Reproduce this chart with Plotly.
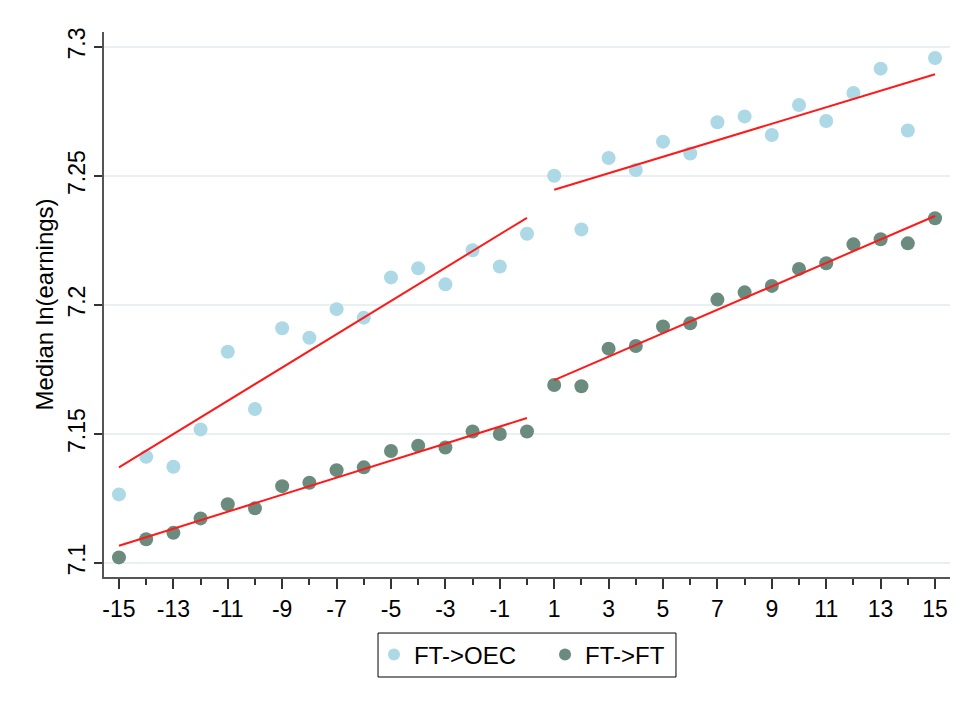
import plotly.graph_objects as go

x_vals = list(range(-15, 16))
oec_vals = [7.1266, 7.1412, 7.1373, 7.1518, 7.1819, 7.1597, 7.1910, 7.1873,
            7.1984, 7.1951, 7.2107, 7.2142, 7.2080, 7.2212, 7.2149, 7.2276,
            7.2501, 7.2293, 7.2570, 7.2523, 7.2633, 7.2587, 7.2708, 7.2731,
            7.2659, 7.2775, 7.2713, 7.2822, 7.2916, 7.2676, 7.2957]
ft_vals = [7.1022, 7.1092, 7.1117, 7.1173, 7.1228, 7.1212, 7.1298, 7.1311,
           7.1360, 7.1371, 7.1434, 7.1455, 7.1448, 7.1510, 7.1500, 7.1510,
           7.1690, 7.1685, 7.1831, 7.1841, 7.1917, 7.1929, 7.2021, 7.2049,
           7.2074, 7.2140, 7.2162, 7.2235, 7.2255, 7.2239, 7.2336]

# fitted-line endpoints (pre: -15..0, post: 1..15)
fit_pre_x = [-15, 0]
fit_post_x = [1, 15]
oec_fit_pre = [7.1371, 7.2338]
oec_fit_post = [7.2447, 7.2894]
ft_fit_pre = [7.1067, 7.1562]
ft_fit_post = [7.1709, 7.2345]

x_tickvals = list(range(-15, 16, 2))
x_ticktext = [str(v) for v in x_tickvals]
x_minorvals = list(range(-14, 15, 2))
y_tickvals = [7.1, 7.15, 7.2, 7.25, 7.3]
y_ticktext = ["7.1", "7.15", "7.2", "7.25", "7.3"]

OEC_COLOR = "#add8e6"
FT_COLOR = "#6b8b7e"
FIT_COLOR = "#ff1a1a"

fig = go.Figure()
fig.add_trace(go.Scatter(x=x_vals, y=oec_vals, mode="markers", name="FT->OEC",
                         legend="legend",
                         marker=dict(color=OEC_COLOR, size=14, line=dict(width=0))))
fig.add_trace(go.Scatter(x=x_vals, y=ft_vals, mode="markers", name="FT->FT",
                         legend="legend2",
                         marker=dict(color=FT_COLOR, size=14, line=dict(width=0))))
for xs, ys in [(fit_pre_x, oec_fit_pre), (fit_post_x, oec_fit_post),
               (fit_pre_x, ft_fit_pre), (fit_post_x, ft_fit_post)]:
    fig.add_trace(go.Scatter(x=xs, y=ys, mode="lines", showlegend=False,
                             line=dict(color=FIT_COLOR, width=2)))

legend_common = dict(orientation="h", y=-0.143, yanchor="middle", xanchor="left",
                     borderwidth=0, bgcolor="rgba(0,0,0,0)",
                     font=dict(size=24), itemsizing="constant")

fig.update_layout(
    width=968, height=705,
    margin=dict(l=104, r=18, t=32, b=128),
    paper_bgcolor="white", plot_bgcolor="white",
    font=dict(family="Liberation Sans, Arial, sans-serif", size=23, color="black"),
    showlegend=True,
    legend=dict(x=0.3191, **legend_common),
    legend2=dict(x=0.5213, **legend_common),
    shapes=[dict(type="rect", xref="paper", yref="paper",
                 x0=0.3239, x1=0.6761, y0=-0.1835, y1=-0.1028,
                 line=dict(color="black", width=1), fillcolor="rgba(0,0,0,0)",
                 layer="above")],
)
fig.update_xaxes(
    range=[-15.55, 15.55],
    tickvals=x_tickvals, ticktext=x_ticktext,
    ticks="outside", ticklen=10, tickwidth=1.5, tickcolor="#333",
    minor=dict(tickvals=x_minorvals, ticks="outside", ticklen=6,
               tickwidth=1.5, tickcolor="#333"),
    showline=True, linecolor="#555", linewidth=2,
    showgrid=False, zeroline=False,
    tickfont=dict(size=23),
)
fig.update_yaxes(
    range=[7.0946, 7.3058],
    tickvals=y_tickvals, ticktext=y_ticktext, tickangle=-90,
    ticks="outside", ticklen=8, tickwidth=1.5, tickcolor="#333",
    showline=True, linecolor="#555", linewidth=2,
    showgrid=True, gridcolor="#e8f0f3", gridwidth=1.5, zeroline=False,
    tickfont=dict(size=23),
    title=dict(text="Median ln(earnings)", font=dict(size=24), standoff=3),
)

fig.write_html("out.html")
